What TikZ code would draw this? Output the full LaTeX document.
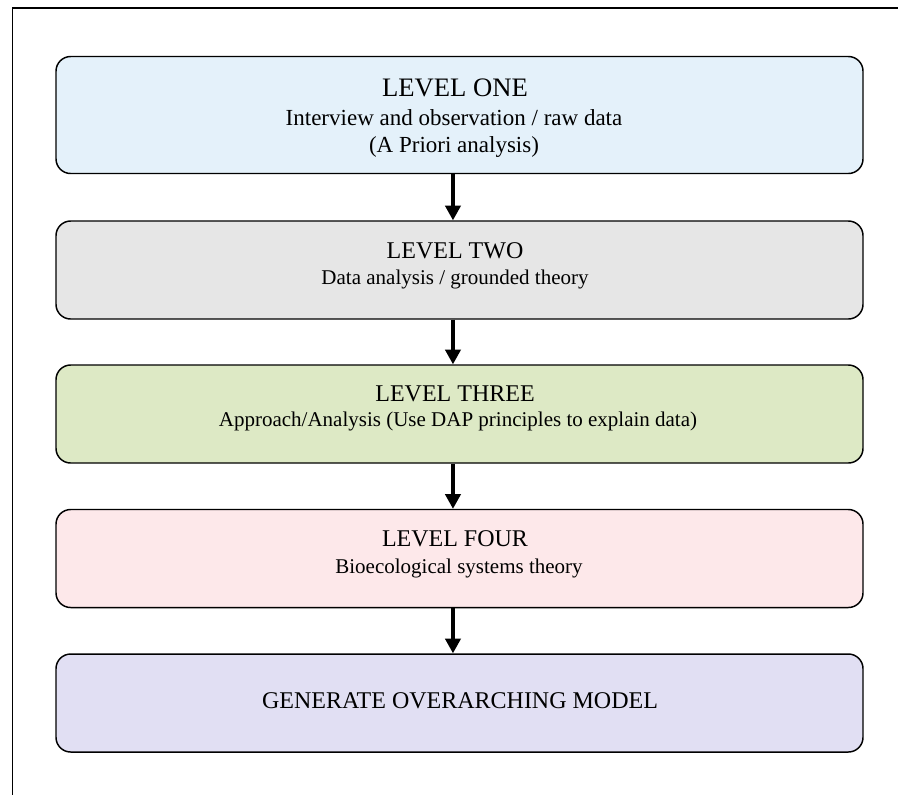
\documentclass[tikz,border=0pt]{standalone}
\usepackage{fontspec}
\setmainfont{Liberation Serif}
\usetikzlibrary{arrows.meta}
\definecolor{cOne}{HTML}{E4F1FA}
\definecolor{cTwo}{HTML}{E6E6E6}
\definecolor{cThree}{HTML}{DDE9C5}
\definecolor{cFour}{HTML}{FDE8EA}
\definecolor{cFive}{HTML}{E1DFF3}
\tikzset{
  levelbox/.style={draw=black, line width=1.1pt, rounded corners=11pt, minimum width=605.25pt, inner sep=0pt},
  ttl/.style={anchor=base, inner sep=0pt, font=\fontsize{18}{20}\selectfont},
  sub/.style={anchor=base, inner sep=0pt, font=\fontsize{15.75}{18}\selectfont},
  flowarrow/.style={line width=2.3pt, -{Triangle[width=11.5pt,length=11pt]}},
  frameline/.style={line width=1.1pt}
}
\begin{document}
\begin{tikzpicture}[x=0.75pt, y=-0.75pt]
\useasboundingbox (0,0) rectangle (898,794);
% outer frame (cropped)
\draw[frameline] (12.5,820) -- (12.5,7.8) -- (920,7.8);
% boxes
\node[levelbox, fill=cOne, minimum height=87.75pt] (b1) at (459.5,115) {};
\node[levelbox, fill=cTwo, minimum height=73.5pt] (b2) at (459.5,270) {};
\node[levelbox, fill=cThree, minimum height=73.5pt] (b3) at (459.5,414) {};
\node[levelbox, fill=cFour, minimum height=73.5pt] (b4) at (459.5,558.5) {};
\node[levelbox, fill=cFive, minimum height=73.5pt] (b5) at (459.5,703) {};
% texts
\node[ttl, font=\fontsize{20}{22}\selectfont] (t1a) at (455,96) {LEVEL ONE};
\node[sub, font=\fontsize{17.25}{20}\selectfont] (t1b) at (454,125) {Interview and observation / raw data};
\node[sub, font=\fontsize{17.25}{20}\selectfont] (t1c) at (454,152) {(A Priori analysis)};
\node[ttl] (t2a) at (455,258) {LEVEL TWO};
\node[sub] (t2b) at (455,284) {Data analysis / grounded theory};
\node[ttl] (t3a) at (455,401) {LEVEL THREE};
\node[sub] (t3b) at (458,426) {Approach/Analysis (Use DAP principles to explain data)};
\node[ttl] (t4a) at (455,546) {LEVEL FOUR};
\node[sub] (t4b) at (459,573) {Bioecological systems theory};
\node[ttl] (t5a) at (460,708) {GENERATE OVERARCHING MODEL};
% arrows
\draw[flowarrow] ([xshift=-4.9pt]b1.south) -- ([xshift=-4.9pt]b2.north);
\draw[flowarrow] ([xshift=-4.9pt]b2.south) -- ([xshift=-4.9pt]b3.north);
\draw[flowarrow] ([xshift=-4.9pt]b3.south) -- ([xshift=-4.9pt]b4.north);
\draw[flowarrow] ([xshift=-4.9pt]b4.south) -- ([xshift=-4.9pt]b5.north);
\end{tikzpicture}
\end{document}
